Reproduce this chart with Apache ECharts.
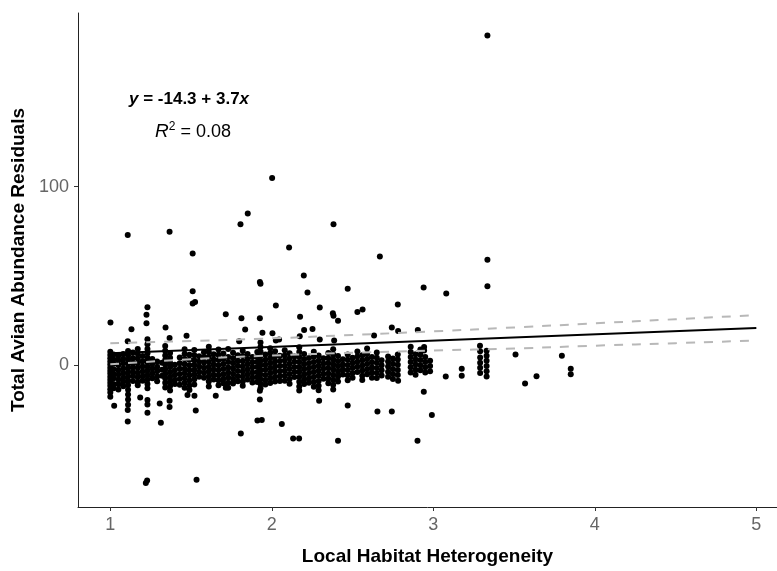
<!DOCTYPE html>
<html>
<head>
<meta charset="utf-8">
<script src="https://cdn.jsdelivr.net/npm/echarts@6/dist/echarts.min.js"></script>
<style>html,body{margin:0;padding:0;background:#fff}#c{width:777px;height:571px}</style>
</head>
<body>
<div id="c"></div>
<script>
const xTicks = [1, 2, 3, 4, 5];
const yTicks = [0, 100];

// regression line and confidence band
const fitX = [1, 5];
const fitY = [6.8, 20.9];
const ciX = [1, 1.5, 2, 2.5, 3, 3.5, 4, 4.5, 5];
const ciUpper = [12.3, 13.6, 15.1, 17.0, 19.0, 21.2, 23.5, 25.8, 28.1];
const ciLower = [0.6, 3.4, 5.5, 7.0, 8.3, 9.4, 11.0, 12.4, 13.9];

// isolated points [x, y]
const outliersHigh = [
  [1.108,73.0],[1.367,74.8],[1.51,62.6],[1.806,78.9],[1.851,85.0],[2.002,104.8],[2.107,65.9],
  [2.382,78.9],[2.669,60.9],[3.335,184.6],[3.335,59.1],[2.94,43.5],[3.08,40.2],[2.78,34.1],
  [3.335,44.2],[2.198,50.3],[1.926,46.7],[1.93,45.6],[1.51,41.4],[2.221,40.7],[2.47,42.9],
  [1.51,34.6],[1.525,35.5],[2.025,33.5],[2.297,32.3],[1.23,32.5],[2.562,31.2],[2.53,29.8],
  [1.224,28.3],[1.224,23.5],[1.001,23.9],[1.131,20.2],[1.342,21.1],[1.715,28.6],[1.472,16.5],
  [1.108,13.5],[1.367,15.3],[1.812,26.4],[1.926,26.4],[2.175,27.2],[1.835,20.0],[1.942,18.3],
  [2.004,18.0],[2.2,19.8],[2.378,29.2],[2.382,27.8],[2.41,25.0],[2.252,20.3],[1.798,13.5],
  [2.025,13.9],[2.045,14.4],[2.297,14.4],[2.386,13.9],[2.173,16.3],[2.743,21.1],[2.782,19.2],
  [2.904,19.8],[2.633,16.7],[2.943,10.2],[2.943,8.3],[3.289,10.9],[3.509,6.1],[3.568,-10.2],
  [3.639,-6.1],[3.796,5.3],[3.851,-1.9],[3.851,-5.0]
];
const outliersLow = [
  [1.024,-22.6],[1.108,-31.5],[1.313,-32.1],[1.23,-26.5],[1.23,-21.9],[1.23,-19.4],[1.306,-21.3],
  [1.367,-23.3],[1.367,-19.8],[1.185,-18.0],[1.529,-25.3],[1.521,-17.0],[1.478,-16.6],[1.653,-17.0],
  [1.108,-25.0],[1.808,-38.2],[1.911,-30.9],[1.938,-30.6],[1.926,-14.3],[1.926,-19.1],[2.062,-32.8],
  [2.132,-40.9],[2.169,-40.9],[2.293,-19.8],[2.47,-22.5],[2.41,-42.2],[2.902,-42.2],[2.654,-25.9],
  [2.743,-25.9],[2.991,-27.8],[2.941,-14.8],[2.782,-8.7],[3.077,-6.3],[3.176,-1.9],[3.176,-5.9],
  [1.22,-65.8],[1.228,-64.4],[1.534,-64.1],[1.715,-12.6]
];

// dense cloud, by columns: [x, [y values]]
const band1 = [
  [1.00,[7.6,5.8,3.9,2.1,0.4,-1.3,-3.0,-4.6,-6.4,-8.1,-9.7,-11.5,-13.4,-15.2,-17.6]],
  [1.02,[6.1,3.2,0.9,-2.2,-4.9,-7.3,-10.4,-12.8]],
  [1.05,[5.4,2.8,0.2,-2.6,-5.1,-7.9,-10.6,-13.5]],
  [1.08,[6.3,3.7,1.1,-1.8,-4.4,-6.9,-9.2,-11.7]],
  [1.11,[8.0,5.6,3.1,0.8,-1.5,-3.9,-6.2,-8.6,-11.0,-13.7,-16.3,-19.1,-22.0]],
  [1.14,[7.2,4.1,1.5,-1.1,-3.6,-6.0,-8.8]],
  [1.17,[9.1,6.5,3.8,1.2,-1.4,-4.2,-6.7,-9.5,-11.2]],
  [1.20,[5.2,2.3,-0.6,-3.4,-6.1,-8.7]],
  [1.23,[14.6,11.8,9.2,6.7,4.3,1.8,-0.7,-3.1,-5.6,-8.0,-10.4,-12.9]],
  [1.26,[3.5,0.9,-1.8,-4.6,-7.2]],
  [1.29,[2.1,-0.8,-3.3,-6.2,-8.9]],
  [1.32,[1.4,-2.5,-5.8]],
  [1.34,[10.8,8.1,5.5,3.0,0.4,-2.2,-4.7,-7.3,-9.8,-12.4]],
  [1.37,[6.9,4.2,1.6,-1.0,-3.7,-6.4,-9.0,-11.6,-14.1]],
  [1.40,[0.3,-2.6,-5.3,-8.1,-10.5]],
  [1.43,[4.4,1.2,-1.9,-4.8,-7.7,-10.9]],
  [1.46,[9.0,6.3,3.5,0.8,-1.9,-4.5,-7.1,-9.8,-12.6]],
  [1.49,[5.9,3.1,0.1,-2.8,-5.6,-8.5,-11.3,-13.8]],
  [1.52,[8.6,5.7,2.9,0.2,-2.5,-5.2,-7.8,-10.7]]
];
const band2 = [
  [1.55,[5.1,2.2,-0.7,-3.6,-6.4]],
  [1.58,[7.3,4.5,1.6,-1.3,-4.1,-6.9]],
  [1.61,[10.4,7.6,4.8,2.0,-0.8,-3.5,-6.3,-9.1,-11.8]],
  [1.64,[6.2,3.3,0.5,-2.4,-5.3,-8.0]],
  [1.67,[8.8,5.9,3.0,0.1,-2.7,-5.6,-8.4,-11.2]],
  [1.70,[6.6,3.6,0.7,-2.1,-5.0,-7.7,-10.1]],
  [1.73,[9.2,4.7,1.8,-1.2,-4.0,-6.8,-9.7,-12.6]],
  [1.76,[7.1,4.0,1.1,-1.8,-4.7,-7.5,-10.2]],
  [1.79,[5.6,2.6,-0.3,-3.2,-6.1,-8.9]],
  [1.82,[8.1,5.2,2.3,-0.6,-3.5,-6.3,-9.1,-11.4]],
  [1.85,[6.4,3.4,0.6,-2.3,-5.1,-7.9]],
  [1.88,[4.6,1.7,-1.1,-4.0,-6.8,-9.6]],
  [1.91,[7.5,4.6,1.8,-1.0,-3.9,-6.7,-9.4]],
  [1.93,[12.8,10.2,7.7,5.1,2.6,0.0,-2.6,-5.2,-7.8,-10.3,-12.9]],
  [1.96,[6.0,3.1,0.3,-2.5,-5.4,-8.2,-10.8]],
  [1.99,[9.6,6.8,4.0,1.2,-1.6,-4.4,-7.2,-9.9]],
  [2.02,[7.9,5.0,2.1,-0.7,-3.5,-6.4,-9.1]],
  [2.05,[5.3,2.4,-0.4,-3.3,-6.1,-8.8]]
];
const band3 = [
  [2.08,[8.4,5.5,2.7,-0.2,-3.0,-5.8,-8.6]],
  [2.11,[6.7,3.8,0.9,-1.9,-4.8,-7.6,-10.3]],
  [2.14,[4.9,2.0,-0.9,-3.7,-6.5]],
  [2.17,[10.1,7.4,4.6,1.9,-0.9,-3.6,-6.4,-9.2,-11.9,-14.1]],
  [2.20,[6.3,3.4,0.6,-2.2,-5.1,-7.9,-10.4]],
  [2.23,[4.1,1.2,-1.6,-4.5,-7.3,-9.8]],
  [2.26,[7.6,4.8,1.9,-0.9,-3.8,-6.6,-9.4,-12.0]],
  [2.29,[5.5,2.6,-0.2,-3.1,-5.9,-8.8,-11.5,-13.9]],
  [2.32,[3.9,1.0,-1.8,-4.7,-7.5]],
  [2.35,[6.9,4.0,1.1,-1.7,-4.6,-7.4,-10.1]],
  [2.38,[9.0,6.1,3.3,0.4,-2.4,-5.3,-8.1,-10.9,-13.6]],
  [2.41,[5.2,2.3,-0.5,-3.4,-6.2,-9.0]],
  [2.44,[3.4,0.5,-2.3,-5.2]],
  [2.47,[6.0,3.1,0.2,-2.6,-5.5,-8.3]],
  [2.50,[4.3,1.4,-1.4,-4.3,-6.9]],
  [2.53,[7.8,4.9,2.0,-0.8,-3.7]]
];
const band4 = [
  [2.56,[5.7,2.8,-0.1,-2.9,-5.8,-8.2]],
  [2.59,[9.4,6.4,3.5,0.7,-2.2,-5.0]],
  [2.62,[4.6,1.7,-1.2,-4.0,-6.9]],
  [2.65,[7.2,4.3,1.4,-1.5,-4.3,-7.1]],
  [2.68,[2.9,0.0,-2.8,-5.7]],
  [2.72,[5.0,2.1,-0.7,-3.6,-6.4]],
  [2.75,[3.8,0.9,-2.0,-4.9,-7.7]],
  [2.78,[6.1,3.2,0.3,-2.6,-5.4]],
  [2.86,[10.4,7.5,4.6,1.8,-1.1,-4.0]],
  [2.89,[6.2,3.3,0.4,-2.5,-5.3]],
  [2.92,[8.9,5.9,3.0,0.1,-2.8]],
  [2.95,[4.7,1.8,-1.1,-4.0]],
  [2.98,[2.5,-0.4,-3.3]],
  [3.29,[7.9,4.4,1.5,-1.4,-4.3]],
  [3.33,[8.2,5.4,2.5,-0.4,-3.3,-6.2]]
];

const points = [].concat(outliersHigh, outliersLow);
[band1, band2, band3, band4].forEach(function (b) {
  b.forEach(function (col) {
    col[1].forEach(function (y) { points.push([col[0], y]); });
  });
});

const zip = function (xs, ys) { return xs.map(function (x, i) { return [x, ys[i]]; }); };

const FONT = "'Liberation Sans', Arial, sans-serif";
const chart = echarts.init(document.getElementById('c'), null, { renderer: 'canvas' });
chart.setOption({
  animation: false,
  backgroundColor: '#ffffff',
  grid: { left: 78, top: 13, right: 0, bottom: 60, containLabel: false },
  xAxis: {
    type: 'value', min: 0.8, max: 5.128,
    name: 'Local Habitat Heterogeneity', nameLocation: 'middle', nameGap: 40,
    nameTextStyle: { fontFamily: FONT, fontSize: 19, fontWeight: 'bold', color: '#000' },
    axisLine: { show: true, onZero: false, lineStyle: { color: '#222', width: 1 } },
    axisTick: { show: true, length: 4, customValues: xTicks, lineStyle: { color: '#333' } },
    axisLabel: { customValues: xTicks, fontFamily: FONT, fontSize: 18, color: '#666', margin: 9 },
    splitLine: { show: false }
  },
  yAxis: {
    type: 'value', min: -79.3, max: 197.2,
    name: 'Total Avian Abundance Residuals', nameLocation: 'middle', nameGap: 49, nameRotate: 90,
    nameTextStyle: { fontFamily: FONT, fontSize: 19, fontWeight: 'bold', color: '#000' },
    axisLine: { show: true, onZero: false, lineStyle: { color: '#222', width: 1 } },
    axisTick: { show: true, length: 4, customValues: yTicks, lineStyle: { color: '#333' } },
    axisLabel: { customValues: yTicks, fontFamily: FONT, fontSize: 18, color: '#666', margin: 9 },
    splitLine: { show: false }
  },
  series: [
    { type: 'scatter', data: points, symbolSize: 6, itemStyle: { color: '#000', opacity: 1 }, z: 2 },
    { type: 'line', data: zip(ciX, ciUpper), smooth: true, showSymbol: false, symbol: 'none',
      lineStyle: { color: '#b8b8b8', width: 2, type: [9, 9] }, z: 3 },
    { type: 'line', data: zip(ciX, ciLower), smooth: true, showSymbol: false, symbol: 'none',
      lineStyle: { color: '#b8b8b8', width: 2, type: [9, 9] }, z: 3 },
    { type: 'line', data: zip(fitX, fitY), showSymbol: false, symbol: 'none',
      lineStyle: { color: '#000', width: 2 }, z: 4 }
  ],
  graphic: [
    { type: 'text', left: 129, top: 91, z: 10,
      style: { text: '{i|y} = -14.3 + 3.7{i|x}', fill: '#000',
        font: 'bold 17px ' + FONT,
        rich: { i: { fontStyle: 'italic', fontWeight: 'bold', fontSize: 17, fontFamily: FONT } } } },
    { type: 'text', left: 155, top: 121, z: 10,
      style: { text: '{i|R}{s|2} = 0.08', fill: '#000',
        font: '18px ' + FONT,
        rich: { i: { fontStyle: 'italic', fontSize: 19, fontFamily: FONT },
                s: { fontSize: 12, fontFamily: FONT, padding: [0, 0, 10, 0] } } } }
  ]
});
</script>
</body>
</html>
